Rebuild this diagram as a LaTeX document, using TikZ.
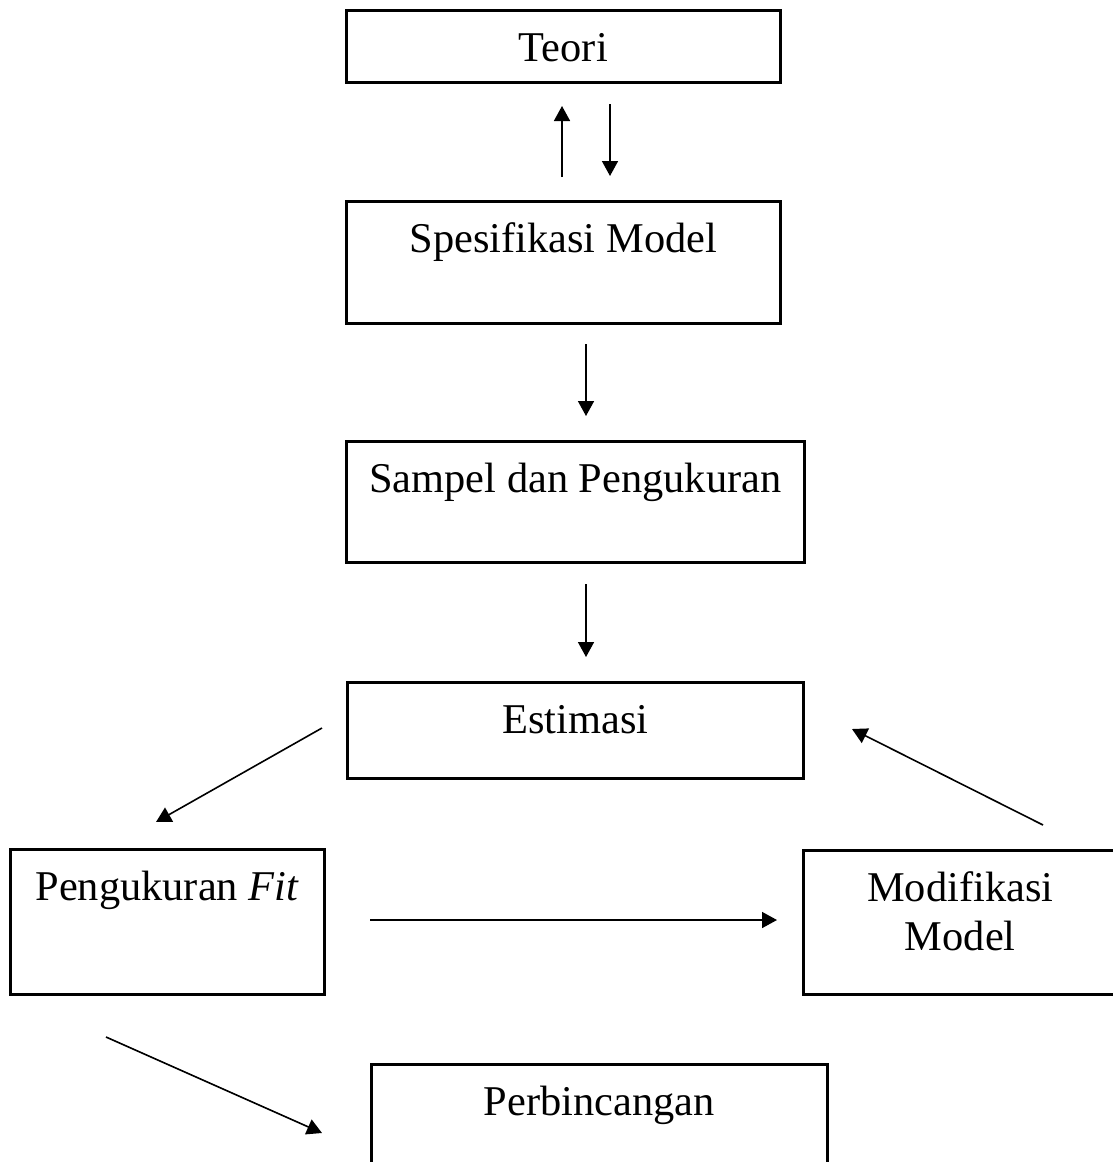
\documentclass[tikz,border=0pt]{standalone}
\usepackage{fontspec}
\setmainfont{Liberation Serif}
\usetikzlibrary{arrows.meta}

\tikzset{
	kotak/.style={draw, line width=1.3pt, inner sep=0pt, anchor=north west, align=center,
		text height=25.5pt, font=\fontsize{21.2}{24.5}\selectfont},
	panah/.style={line width=0.8pt, -{Triangle[length=7.5pt, width=8pt]}}
}

\begin{document}
\begin{tikzpicture}[x=0.5pt, y=-0.5pt]

		\useasboundingbox (0,0) rectangle (1113,1162);

		\node[kotak, minimum width=217pt, text depth=10.5pt] (teori) at (345,9) {Teori};
		\node[kotak, minimum width=217pt, text depth=35.5pt] (spesifikasi) at (345,200) {Spesifikasi Model};
		\node[kotak, minimum width=229pt, text depth=35pt] (sampel) at (345,440) {Sampel dan Pengukuran};
		\node[kotak, minimum width=228pt, text depth=22.5pt] (estimasi) at (346,681) {Estimasi};
		\node[kotak, minimum width=157pt, text depth=47pt] (ukurfit) at (9,848) {Pengukuran \textit{Fit}};
		\node[kotak, minimum width=157pt, text height=50pt, text depth=22pt] (modifikasi) at (802,849) {Modifikasi\\Model};
		\node[kotak, minimum width=228pt, text depth=43pt] (bincang) at (370,1063) {Perbincangan};

		\coordinate (naikA) at (562,177);   \coordinate (naikB) at (562,106);
		\coordinate (turunA) at (610,104);  \coordinate (turunB) at (610,176);
		\coordinate (s1A) at (586,344);     \coordinate (s1B) at (586,416);
		\coordinate (s2A) at (586,584);     \coordinate (s2B) at (586,657);
		\coordinate (estA) at (322,728);    \coordinate (estB) at (156,822);
		\coordinate (modA) at (1043,825);   \coordinate (modB) at (852,729);
		\coordinate (fitA) at (370,920);    \coordinate (fitB) at (777,920);
		\coordinate (binA) at (106,1037);   \coordinate (binB) at (322,1133);

		\draw[panah] (naikA) -- (naikB);
		\draw[panah] (turunA) -- (turunB);
		\draw[panah] (s1A) -- (s1B);
		\draw[panah] (s2A) -- (s2B);
		\draw[panah] (estA) -- (estB);
		\draw[panah] (modA) -- (modB);
		\draw[panah] (fitA) -- (fitB);
		\draw[panah] (binA) -- (binB);

	\end{tikzpicture}
\end{document}
